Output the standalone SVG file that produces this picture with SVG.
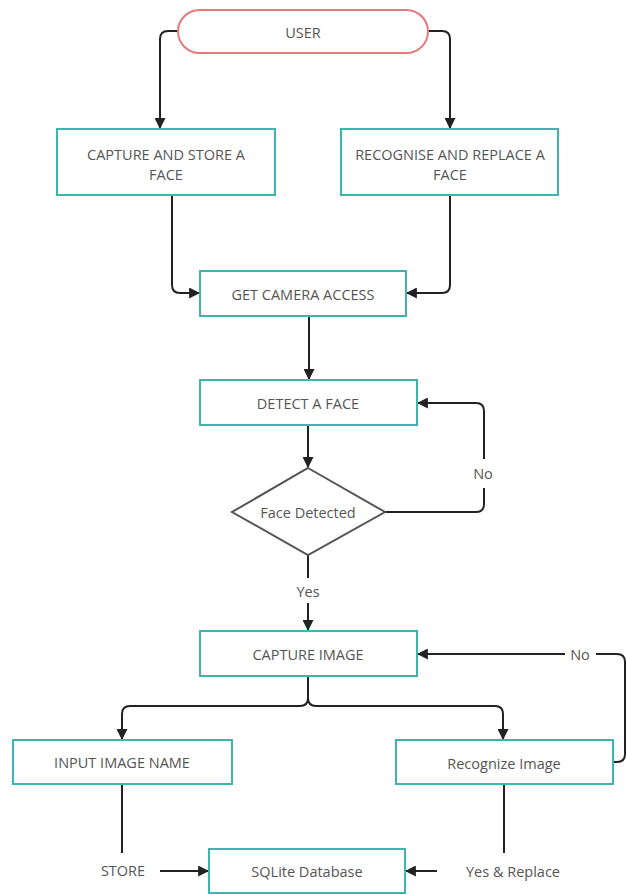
<svg xmlns="http://www.w3.org/2000/svg" width="627" height="895" viewBox="0 0 627 895">
<style>
.box{fill:#fff;stroke:#3fb3b0;stroke-width:2}
.term{fill:#fff;stroke:#e67a7a;stroke-width:2}
.dia{fill:#fff;stroke:#555;stroke-width:2}
.t{font-family:"Open Sans","Noto Sans",sans-serif;font-size:14.5px;fill:#555;text-anchor:middle;dominant-baseline:central}
.c{fill:none;stroke:#222;stroke-width:2}
</style>
<defs>
<marker id="ah" viewBox="0 0 10 10" refX="9" refY="5" markerWidth="11" markerHeight="11" markerUnits="userSpaceOnUse" orient="auto">
<path d="M0,0 L10,5 L0,10 z" fill="#222"/>
</marker>
</defs>
<rect width="627" height="895" fill="#fff"/>
<g id="connectors">
<path class="c" d="M178,31 H168 Q160,31 160,39 V128" marker-end="url(#ah)"/>
<path class="c" d="M428,31 H442 Q450,31 450,39 V128" marker-end="url(#ah)"/>
<path class="c" d="M172,195 V285 Q172,293 180,293 H199" marker-end="url(#ah)"/>
<path class="c" d="M450,195 V285 Q450,293 442,293 H407" marker-end="url(#ah)"/>
<path class="c" d="M309,316 V379" marker-end="url(#ah)"/>
<path class="c" d="M308,425 V467" marker-end="url(#ah)"/>
<path class="c" d="M385,512 H476 Q484,512 484,504 V488"/>
<path class="c" d="M484,459 V411 Q484,403 476,403 H418" marker-end="url(#ah)"/>
<path class="c" d="M308,555 V578"/>
<path class="c" d="M308,603 V630" marker-end="url(#ah)"/>
<path class="c" d="M308,676 V698 Q308,706 300,706 H130 Q122,706 122,714 V739" marker-end="url(#ah)"/>
<path class="c" d="M308,676 V698 Q308,706 316,706 H495 Q503,706 503,714 V739" marker-end="url(#ah)"/>
<path class="c" d="M613,762 H617 Q625,762 625,754 V662 Q625,654 617,654 H596"/>
<path class="c" d="M565,654 H418" marker-end="url(#ah)"/>
<path class="c" d="M122,784 V853"/>
<path class="c" d="M160,871 H208" marker-end="url(#ah)"/>
<path class="c" d="M504,784 V853"/>
<path class="c" d="M437,871 H406" marker-end="url(#ah)"/>
</g>
<g id="user"><rect class="term" x="178" y="10" width="250" height="43" rx="21.5"/><text class="t" x="303" y="32">USER</text></g>
<g id="capture-store"><rect class="box" x="57" y="129" width="218" height="66"/><text class="t" x="166" y="154">CAPTURE AND STORE A</text><text class="t" x="166" y="174">FACE</text></g>
<g id="recognise-replace"><rect class="box" x="341" y="129" width="217" height="66"/><text class="t" x="450" y="154">RECOGNISE AND REPLACE A</text><text class="t" x="450" y="174">FACE</text></g>
<g id="camera"><rect class="box" x="200" y="271" width="206" height="45"/><text class="t" x="303" y="294">GET CAMERA ACCESS</text></g>
<g id="detect"><rect class="box" x="200" y="380" width="217" height="45"/><text class="t" x="308" y="403">DETECT A FACE</text></g>
<g id="decision"><polygon class="dia" points="308,468 385,512 308,555 232,512"/><text class="t" x="308" y="512">Face Detected</text></g>
<g id="lbl-no1"><text class="t" x="483" y="473">No</text></g>
<g id="lbl-yes"><text class="t" x="308" y="591">Yes</text></g>
<g id="capture-image"><rect class="box" x="200" y="631" width="217" height="45"/><text class="t" x="308" y="654">CAPTURE IMAGE</text></g>
<g id="lbl-no2"><text class="t" x="580" y="654">No</text></g>
<g id="input-name"><rect class="box" x="13" y="740" width="219" height="44"/><text class="t" x="122" y="762">INPUT IMAGE NAME</text></g>
<g id="recognize"><rect class="box" x="396" y="740" width="217" height="44"/><text class="t" x="504" y="763">Recognize Image</text></g>
<g id="lbl-store"><text class="t" x="123" y="870">STORE</text></g>
<g id="sqlite"><rect class="box" x="209" y="849" width="196" height="44"/><text class="t" x="307" y="871">SQLite Database</text></g>
<g id="lbl-yes-replace"><text class="t" x="513" y="871">Yes &amp; Replace</text></g>
</svg>
